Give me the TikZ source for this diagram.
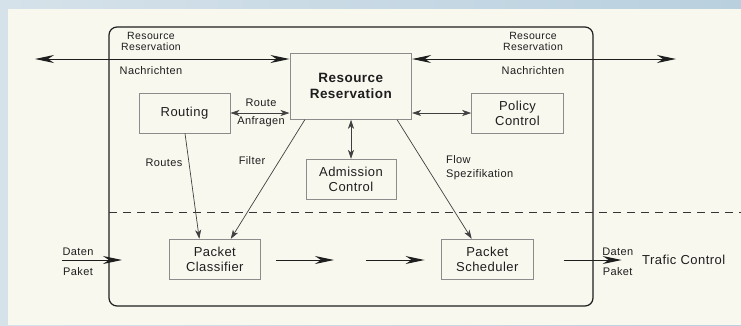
\documentclass[tikz,border=0pt]{standalone}
\usepackage{fontspec}
\setmainfont{Liberation Sans}[LetterSpace=3.5]
\usetikzlibrary{arrows.meta,calc}
\definecolor{paper}{HTML}{F9F8EF}
\definecolor{frameL}{HTML}{D6E2EA}
\definecolor{frameR}{HTML}{B9D0DF}
\definecolor{boxline}{HTML}{8C8C8C}
\definecolor{ink}{HTML}{1E1E1E}
\tikzset{
  x=1pt, y=-1pt,
  unit/.style={draw=boxline, line width=0.9pt, fill=paper, inner sep=0pt, align=center,
               font=\fontsize{13}{15}\selectfont, text=ink},
  lbl/.style={inner sep=0pt, align=center, font=\fontsize{11}{13.5}\selectfont, text=ink},
  bigtip/.tip={Stealth[length=19pt,width=8pt,inset=6pt]},
  smalltip/.tip={Stealth[length=9pt,width=6pt,inset=2.5pt]},
  msgarrow/.style={draw=ink, line width=1pt},
  ctrl/.style={draw=ink!85, line width=0.7pt},
}
\begin{document}
\begin{tikzpicture}
% page background and frame strips
\useasboundingbox (0,0) rectangle (741,325);
\shade[left color=frameL, right color=frameR] (0,0) rectangle (741,325);
\fill[paper] (8,9) rectangle (741,325);

% integrated services router outline
\draw[ink, line width=1.2pt, rounded corners=8pt] (109,27) rectangle (593,306);
% boundary between control and data path
\draw[ink!90, line width=1.4pt, dash pattern=on 8pt off 6pt] (109,212.7) -- (741,212.7);

% functional units
\node[unit, minimum width=121.7pt, minimum height=66pt,
      font=\bfseries\fontsize{13.5}{16}\selectfont] (rr) at (350.8,86.3) {Resource\\Reservation};
\node[unit, minimum width=91pt, minimum height=40pt] (routing) at (184.5,113) {Routing};
\node[unit, minimum width=91.6pt, minimum height=40pt] (policy) at (517.5,113) {Policy\\Control};
\node[unit, minimum width=90pt, minimum height=40pt] (adm) at (351,179.3) {Admission\\Control};
\node[unit, minimum width=91pt, minimum height=40pt] (pc) at (214.8,259.3) {Packet\\Classifier};
\node[unit, minimum width=92pt, minimum height=40pt] (ps) at (487.3,259.3) {Packet\\Scheduler};

% free ends of the message and data arrows
\coordinate (msgL) at (35,59);
\coordinate (msgR) at (676,59);
\coordinate (inA) at (62,260);
\coordinate (inB) at (122,260);
\coordinate (midA) at (334,260);
\coordinate (midB) at (366,260);
\coordinate (outB) at (621.7,260);

% reservation messages
\draw[msgarrow, {bigtip}-{bigtip}] (msgL) -- (msgL -| rr.west);
\draw[msgarrow, {bigtip}-{bigtip}] (msgR -| rr.east) -- (msgR);
\node[lbl, font=\fontsize{10.5}{11}\selectfont] (rmL) at (151,41) {Resource\\Reservation};
\node[lbl] (nL) at (151,71) {Nachrichten};
\node[lbl, font=\fontsize{10.5}{11}\selectfont] (rmR) at (533,41) {Resource\\Reservation};
\node[lbl] (nR) at (533,71) {Nachrichten};

% control interactions
\draw[ctrl, {smalltip}-{smalltip}] (routing.east) -- (routing.east -| rr.west);
\node[lbl] (ra1) at (261,103) {Route};
\node[lbl] (ra2) at (261,121.5) {Anfragen};
\draw[ctrl, {smalltip}-{smalltip}] (policy.west -| rr.east) -- (policy.west);
\draw[ctrl, {smalltip}-{smalltip}] (rr.south -| adm.north) -- (adm.north);

\draw[ctrl, -{smalltip}] ($(routing.south)+(0.5,0)$) -- ($(pc.north)+(-15.5,0)$);
\node[lbl] (routes) at (164,163) {Routes};
\draw[ctrl, -{smalltip}] ($(rr.south west)+(15.3,0)$) -- ($(pc.north)+(16,0)$);
\node[lbl] (filter) at (252,161) {Filter};
\draw[ctrl, -{smalltip}] ($(rr.south east)+(-15,0)$) -- ($(ps.north)+(-15.6,0)$);
\node[lbl, align=left, anchor=west] (flow) at (446,167.5) {Flow\\Spezifikation};

% data path
\draw[msgarrow, -{bigtip}] (inA) -- (inB);
\node[lbl] (dIn) at (78,252) {Daten};
\node[lbl] (pIn) at (78,272) {Paket};
\draw[msgarrow, -{bigtip}] ($(pc.east)+(15.7,0.7)$) -- (midA);
\draw[msgarrow, -{bigtip}] (midB) -- ($(ps.west)+(-16.3,0.7)$);
\draw[msgarrow, -{bigtip}] ($(ps.east)+(30,0.7)$) -- (outB);
\node[lbl] (dOut) at (617.7,252) {Daten};
\node[lbl] (pOut) at (617.7,272) {Paket};
\node[lbl, anchor=west, font=\fontsize{13}{15}\selectfont] (tc) at (642,259.5) {Trafic Control};
\end{tikzpicture}
\end{document}
